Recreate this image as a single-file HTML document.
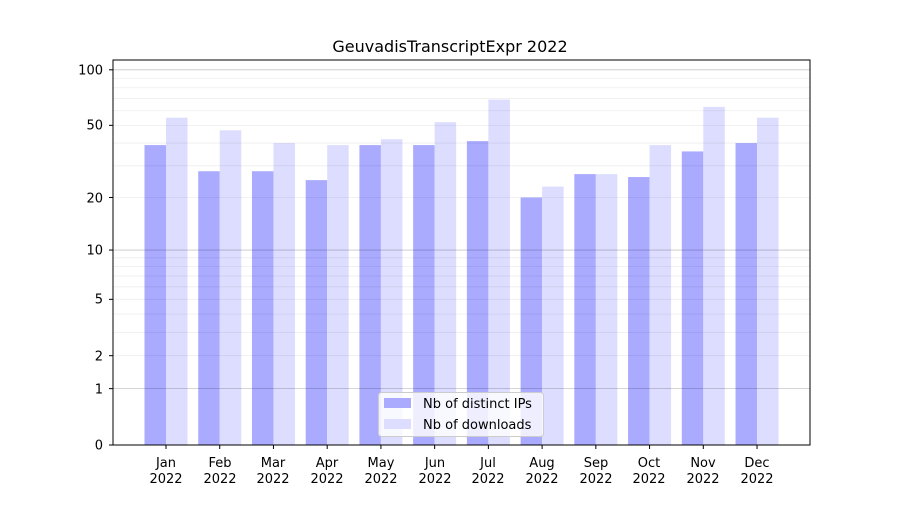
<!DOCTYPE html>
<html><head><meta charset="utf-8"><style>
body{margin:0;background:#fff}
svg text{font-family:"DejaVu Sans","Liberation Sans",sans-serif;font-size:13px;fill:#000}
</style></head><body>
<svg id="s" width="900" height="500" xmlns="http://www.w3.org/2000/svg">
<rect width="900" height="500" fill="#fff"/>
<g id="bars"></g>
<g id="grid"></g>
<rect x="113" y="60" width="697" height="385" fill="none" stroke="#000" stroke-width="1"/>
<text x="450" y="52" text-anchor="middle" style="font-size:16px">GeuvadisTranscriptExpr 2022</text>
<g text-anchor="end">
<text x="103" y="449.5">0</text>
<text x="103" y="393.5">1</text>
<text x="103" y="360.5">2</text>
<text x="103" y="303.5">5</text>
<text x="103" y="254.5">10</text>
<text x="103" y="202.5">20</text>
<text x="103" y="129.5">50</text>
<text x="103" y="74.5">100</text>
</g>
<g id="yt" stroke="#000"></g>
<g text-anchor="middle" id="xl">
<text x="166" y="467">Jan</text><text x="166" y="483">2022</text>
<text x="220" y="467">Feb</text><text x="220" y="483">2022</text>
<text x="273" y="467">Mar</text><text x="273" y="483">2022</text>
<text x="327" y="467">Apr</text><text x="327" y="483">2022</text>
<text x="381" y="467">May</text><text x="381" y="483">2022</text>
<text x="435" y="467">Jun</text><text x="435" y="483">2022</text>
<text x="488" y="467">Jul</text><text x="488" y="483">2022</text>
<text x="542" y="467">Aug</text><text x="542" y="483">2022</text>
<text x="596" y="467">Sep</text><text x="596" y="483">2022</text>
<text x="649" y="467">Oct</text><text x="649" y="483">2022</text>
<text x="703" y="467">Nov</text><text x="703" y="483">2022</text>
<text x="757" y="467">Dec</text><text x="757" y="483">2022</text>
</g>
<rect x="378.5" y="392.5" width="165" height="44" rx="3" fill="#fff" fill-opacity="0.8" stroke="#ccc"/>
<rect x="384" y="398" width="27" height="10" fill="#aaaaff"/>
<rect x="384" y="419" width="27" height="10" fill="#ddddff"/>
<text x="423" y="408">Nb of distinct IPs</text>
<text x="423" y="429">Nb of downloads</text>
</svg>
<script>
var NS="http://www.w3.org/2000/svg";
function Y(v){return 445-187.2*Math.log10(1+v);}
function el(p,t,a){var e=document.createElementNS(NS,t);for(var k in a)e.setAttribute(k,a[k]);p.appendChild(e);return e;}
var g=document.getElementById('grid');
var minors=[2,3,4,5,6,7,8,9,20,30,40,50,60,70,80,90];
minors.forEach(function(v){var y=Y(v);el(g,'line',{x1:113,x2:810,y1:y,y2:y,stroke:'#000','stroke-opacity':0.07,'stroke-width':0.8});});
[1,10,100].forEach(function(v){var y=Y(v);el(g,'line',{x1:113,x2:810,y1:y,y2:y,stroke:'#000','stroke-opacity':0.22,'stroke-width':0.8});});
var yt=document.getElementById('yt');
[0,1,2,5,10,20,50,100].forEach(function(v){var y=Y(v);el(yt,'line',{x1:109,x2:113,y1:y,y2:y});});
var ips=[39,28,28,25,39,39,41,20,27,26,36,40];
var dl=[55,47,40,39,42,52,69,23,27,39,63,55];
var b=document.getElementById('bars');
for(var i=0;i<12;i++){var c=166+i*53.73;
el(b,'rect',{x:c-21.5,y:Y(ips[i]),width:21.5,height:445-Y(ips[i]),fill:'#aaaaff'});
el(b,'rect',{x:c,y:Y(dl[i]),width:21.5,height:445-Y(dl[i]),fill:'#ddddff'});
el(yt,'line',{x1:c,x2:c,y1:445,y2:449});}
</script>
</body></html>
